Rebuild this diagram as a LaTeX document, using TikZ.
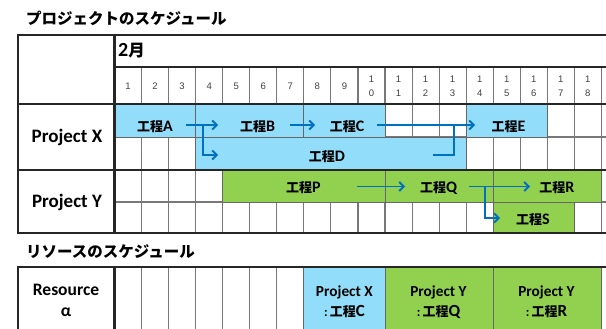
\documentclass[tikz,border=0pt]{standalone}
\usepackage{fontspec}
\setmainfont{Carlito}
\newfontfamily\jp{Noto Sans CJK JP}
\newfontfamily\numf{Liberation Sans}
\usetikzlibrary{arrows.meta}
\definecolor{barblue}{RGB}{146,222,250}
\definecolor{bargreen}{RGB}{146,208,80}
\definecolor{arrblue}{RGB}{0,112,192}
\definecolor{gridgray}{RGB}{120,120,120}
\newcommand\colx[1]{114.5+27.05*(#1-1)}
\newcommand\kou[1]{{\jp\bfseries 工程}{\bfseries\fontsize{16}{18}\selectfont #1}}
\newcommand\rkou[1]{{\bfseries :\,}{\jp\bfseries 工程}{\bfseries\fontsize{17}{18}\selectfont #1}}
\begin{document}
\begin{tikzpicture}[x=1pt,y=-1pt,
  gridline/.style={draw=gridgray,line width=1.1pt},
  frameline/.style={draw=black!85,line width=2.3pt},
  bluebar/.style={fill=barblue,draw=black!60,line width=0.8pt},
  greenbar/.style={fill=bargreen,draw=black!60,line width=0.8pt},
  barlabel/.style={inner sep=0pt,font=\fontsize{13}{15}\selectfont},
  daynum/.style={inner sep=0pt,font=\numf\fontsize{9.5}{10}\selectfont,text=black!75},
  rowlabel/.style={inner sep=0pt,font=\bfseries\fontsize{19}{20}\selectfont},
  reslabel/.style={inner sep=0pt,align=center,font=\bfseries\fontsize{15.3}{20}\selectfont},
  resname/.style={inner sep=0pt,align=center,font=\bfseries\fontsize{17.5}{22}\selectfont},
  title/.style={inner sep=0pt,anchor=west,font=\jp\bfseries\fontsize{15.5}{18}\selectfont},
  arr/.style={draw=arrblue,line width=1.8pt,-{Straight Barb[length=4.5pt,width=9pt]}},
  arrline/.style={draw=arrblue,line width=1.8pt}
]
\useasboundingbox (0,0) rectangle (606,329);
\fill[white] (0,0) rectangle (606,329);

% titles
\node[title] (t1) at (26,18) {プロジェクトのスケジュール};
\node[title] (t2) at (26,252) {リソースのスケジュール};

% grid lines
\foreach \k in {2,...,19} {
  \draw[gridline] ({\colx{\k}},67) -- ({\colx{\k}},233);
  \draw[gridline] ({\colx{\k}},267) -- ({\colx{\k}},330);
}
\draw[gridline] (114.5,137) -- (606,137);
\draw[gridline] (114.5,202) -- (606,202);

% bars project X
\draw[bluebar] ({\colx{1}},104) rectangle ({\colx{4}},137);
\draw[bluebar] ({\colx{4}},104) rectangle ({\colx{8}},137);
\draw[bluebar] ({\colx{8}},104) rectangle ({\colx{11}},137);
\draw[bluebar] ({\colx{14}},104) rectangle ({\colx{17}},137);
\draw[bluebar] ({\colx{4}},137) rectangle ({\colx{14}},170);
% bars project Y
\draw[greenbar] ({\colx{5}},170) rectangle ({\colx{11}},202);
\draw[greenbar] ({\colx{11}},170) rectangle ({\colx{15}},202);
\draw[greenbar] ({\colx{15}},170) rectangle ({\colx{19}},202);
\draw[greenbar] ({\colx{15}},202) rectangle ({\colx{18}},233);
% resource bars
\draw[bluebar] ({\colx{8}},267) rectangle ({\colx{11}},332);
\draw[greenbar] ({\colx{11}},267) rectangle ({\colx{15}},332);
\draw[greenbar] ({\colx{15}},267) rectangle ({\colx{19}},332);

% frame lines
\draw[frameline] (18,35) -- (607,35);
\draw[frameline] (114.5,67) -- (607,67);
\draw[frameline] (18,104) -- (607,104);
\draw[frameline] (18,170) -- (607,170);
\draw[frameline] (18,233) -- (607,233);
\draw[frameline] (18,34) -- (18,234);
\draw[frameline] (114.5,34) -- (114.5,234);
\draw[frameline] (18,267) -- (607,267);
\draw[frameline] (18,266) -- (18,330);
\draw[frameline] (114.5,266) -- (114.5,330);

% month
\node[inner sep=0pt,anchor=west,font=\bfseries\fontsize{20}{22}\selectfont] (month) at (118,51) {2{\jp\bfseries\fontsize{16.5}{18}\selectfont 月}};

% day numbers
\foreach \k in {1,...,9} {
  \node[daynum] (d\k) at ({\colx{\k}+13.5},86) {\k};
}
\foreach \k/\u in {10/0,11/1,12/2,13/3,14/4,15/5,16/6,17/7,18/8} {
  \node[daynum] (da\k) at ({\colx{\k}+13.5},79) {1};
  \node[daynum] (db\k) at ({\colx{\k}+13.5},93) {\u};
}

% row labels
\node[rowlabel] (px) at (67,137) {Project X};
\node[rowlabel] (py) at (67,202) {Project Y};
\node[resname] (ra) at (66,300) {Resource\\[-1pt]α};

% bar labels
\node[barlabel] (kA) at (155,126.5) {\kou{A}};
\node[barlabel] (kB) at (257.5,126.5) {\kou{B}};
\node[barlabel] (kC) at (347,126.5) {\kou{C}};
\node[barlabel] (kD) at (327,157) {\kou{D}};
\node[barlabel] (kE) at (508.5,126.5) {\kou{E}};
\node[barlabel] (kP) at (303.5,187.5) {\kou{P}};
\node[barlabel] (kQ) at (438.5,187.5) {\kou{Q}};
\node[barlabel] (kR) at (557,187.5) {\kou{R}};
\node[barlabel] (kS) at (533,220) {\kou{S}};

% resource labels
\node[reslabel] (rc) at (344.4,302) {Project X\\{\fontsize{13}{15}\selectfont\rkou{C}}};
\node[reslabel] (rq) at (438.5,302) {Project Y\\{\fontsize{13}{15}\selectfont\rkou{Q}}};
\node[reslabel] (rr) at (546.5,302) {Project Y\\{\fontsize{13}{15}\selectfont\rkou{R}}};

% arrows project X
\coordinate (a0) at (186,125);
\coordinate (a1) at (218,125);
\coordinate (ab) at (203,125);
\coordinate (a2) at (218,155);
\draw[arr] (a0) -- (a1);
\draw[arr] (ab) |- (a2);
\coordinate (b0) at (290,125);
\coordinate (b1) at (315,125);
\draw[arr] (b0) -- (b1);
\coordinate (c0) at (377,125);
\coordinate (c1) at (475,125);
\draw[arr] (c0) -- (c1);
\coordinate (dd0) at (433,155);
\coordinate (dj) at (454,125);
\draw[arrline] (dd0) -| (dj);
% arrows project Y
\coordinate (p0) at (357,186.5);
\coordinate (p1) at (405,186.5);
\draw[arr] (p0) -- (p1);
\coordinate (q0) at (469,186.5);
\coordinate (q1) at (530,186.5);
\coordinate (qb) at (485,186.5);
\coordinate (q2) at (500,218);
\draw[arr] (q0) -- (q1);
\draw[arr] (qb) |- (q2);
\end{tikzpicture}
\end{document}
